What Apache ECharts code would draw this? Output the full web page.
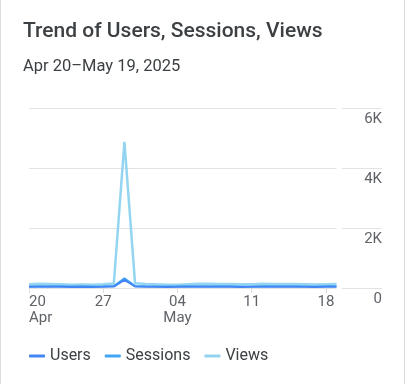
<!DOCTYPE html>
<html>
<head>
<meta charset="utf-8">
<script src="https://cdn.jsdelivr.net/npm/echarts@6/dist/echarts.min.js"></script>
<style>
  html, body { margin: 0; padding: 0; background: #fff; }
  #wrap { position: relative; width: 405px; height: 384px; }
  #chart { position: absolute; left: 0; top: 0; width: 405px; height: 384px; }
  #wrap::before, #wrap::after { content: ''; position: absolute; top: 0; bottom: 0; width: 1px; background: #dadce0; z-index: 5; }
  #wrap::before { left: 0; }
  #wrap::after { right: 0; }
</style>
</head>
<body>
<div id="wrap"><div id="chart"></div></div>
<script>
const categories = ['Apr 20','Apr 21','Apr 22','Apr 23','Apr 24','Apr 25','Apr 26','Apr 27','Apr 28','Apr 29','Apr 30',
  'May 01','May 02','May 03','May 04','May 05','May 06','May 07','May 08','May 09','May 10','May 11','May 12','May 13',
  'May 14','May 15','May 16','May 17','May 18','May 19'];
const users    = [38,45,42,40,36,38,35,40,48,270,52,44,40,36,38,42,45,43,41,40,37,39,44,42,41,40,38,35,40,42];
const sessions = [52,60,57,55,50,52,48,55,64,320,68,58,54,50,52,57,61,59,56,55,51,54,60,57,56,55,52,48,55,58];
const views    = [125,140,135,128,112,118,110,124,150,4870,160,135,122,110,112,128,142,138,134,130,126,128,140,136,135,132,128,118,126,134];
const xTickLabels = {'Apr 20':'20\nApr','Apr 27':'27','May 04':'04\nMay','May 11':'11','May 18':'18'};
const yTickLabels = {0:'0',2000:'2K',4000:'4K',6000:'6K'};

const chart = echarts.init(document.getElementById('chart'));
const FONT = 'Roboto';
const axisFont = { fontFamily: FONT, fontSize: 15, color: '#5f6368' };
const showTick = (i, v) => Object.prototype.hasOwnProperty.call(xTickLabels, v);

chart.setOption({
  animation: false,
  title: [
    { text: 'Trend of Users, Sessions, Views', left: 23, top: 20, padding: 0,
      textStyle: { fontFamily: FONT, fontSize: 21, fontWeight: 500, color: '#3c4043', lineHeight: 24 } },
    { text: 'Apr 20\u2013May 19, 2025', left: 23, top: 58, padding: 0,
      textStyle: { fontFamily: FONT, fontSize: 16.5, fontWeight: 400, color: '#3c4043', lineHeight: 18 } }
  ],
  legend: {
    left: 29, top: 348, itemWidth: 16, itemHeight: 3, itemGap: 14, padding: 0,
    icon: 'roundRect',
    textStyle: { fontFamily: FONT, fontSize: 16, color: '#3c4043' },
    data: ['Users', 'Sessions', 'Views']
  },
  grid: [
    { left: 29, right: 68.5, top: 108, bottom: 96 },
    { left: 342, right: 23, top: 108, bottom: 96 }
  ],
  xAxis: [
    { type: 'category', gridIndex: 0, data: categories, boundaryGap: false,
      axisLine: { show: false },
      axisTick: { show: true, interval: showTick, length: 5, lineStyle: { color: '#dadce0' } },
      axisLabel: Object.assign({ interval: showTick, margin: 6, lineHeight: 16, alignMinLabel: 'left',
        formatter: v => xTickLabels[v] || '' }, axisFont),
      splitLine: { show: false } },
    { type: 'value', gridIndex: 1, show: false, min: 0, max: 1 }
  ],
  yAxis: [
    { type: 'value', gridIndex: 0, min: 0, max: 6000, interval: 2000,
      axisLabel: { show: false }, axisLine: { show: false }, axisTick: { show: false },
      splitLine: { lineStyle: { color: '#e3e3e3', width: 1 } } },
    { type: 'value', gridIndex: 1, position: 'right', min: 0, max: 6000, interval: 2000,
      axisLine: { show: false }, axisTick: { show: false },
      axisLabel: Object.assign({ inside: true, margin: 0, verticalAlign: 'top', padding: [4, 0, 0, 0],
        formatter: v => yTickLabels[v] }, axisFont),
      splitLine: { lineStyle: { color: '#e3e3e3', width: 1 } } }
  ],
  series: [
    { name: 'Users', type: 'line', data: users, xAxisIndex: 0, yAxisIndex: 0, symbol: 'none', z: 4,
      color: '#4285f4', lineStyle: { width: 2, color: '#4285f4' } },
    { name: 'Sessions', type: 'line', data: sessions, xAxisIndex: 0, yAxisIndex: 0, symbol: 'none', z: 3,
      color: '#42a5f5', lineStyle: { width: 2, color: '#42a5f5' } },
    { name: 'Views', type: 'line', data: views, xAxisIndex: 0, yAxisIndex: 0, symbol: 'none', z: 2,
      color: '#93d5f0', lineStyle: { width: 2.5, color: '#93d5f0' } }
  ]
});
</script>
</body>
</html>
